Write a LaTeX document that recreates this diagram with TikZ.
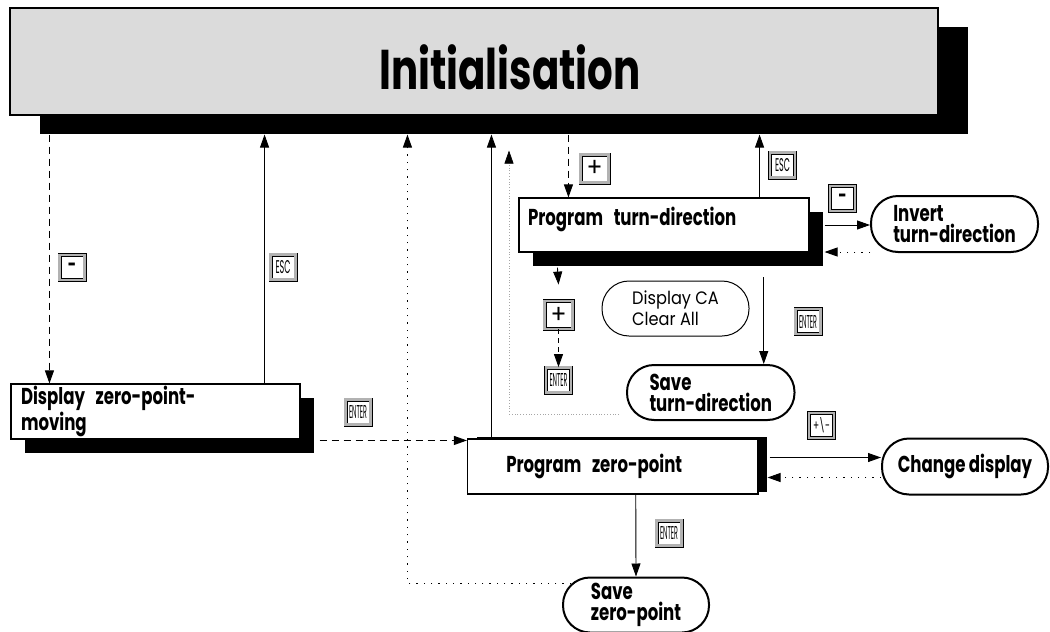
\documentclass[tikz,border=0pt]{standalone}
\usepackage{fontspec}
\usepackage{graphicx}
\setmainfont{Poppins}[FakeStretch=0.72]
\newfontfamily\plainfont{Poppins}[FakeStretch=0.9]
\usetikzlibrary{arrows.meta,shadows}
\newcommand{\titlefont}{\fontsize{56}{60}\selectfont\bfseries}
\newcommand{\boxfont}{\fontsize{23}{21}\selectfont\bfseries}
\newcommand{\keytext}[2]{\resizebox{#1}{13pt}{\plainfont\fontsize{18}{18}\selectfont #2}}
\tikzset{
    state-box/.style = {draw, fill=white, line width=1.1pt, rectangle, align=left, inner xsep=10pt, inner ysep=0pt, font=\boxfont},
    state-pill/.style = {draw, fill=white, line width=2pt, rectangle, rounded corners=27pt, minimum height=55pt, align=left, inner sep=0pt, font=\boxfont},
    solid-shadow/.style = {drop shadow={shadow xshift=#1, shadow yshift=-#1, opacity=1, fill=black}},
    key-cap/.style = {draw=black, line width=0.8pt, double=black!30, double distance=2.4pt, fill=white, minimum size=25pt, inner sep=0pt},
    flow/.style = {line width=0.9pt, -{Triangle[length=13pt,width=9pt]}},
    dash-flow/.style = {flow, dash pattern=on 7pt off 5pt},
    dot-flow/.style = {flow, dash pattern=on 1.3pt off 6pt},
    faint-flow/.style = {flow, draw=black!35, line width=0.6pt, dash pattern=on 0.8pt off 2pt, -{Triangle[length=13pt,width=9pt,black]}},
}

\begin{document}
\begin{tikzpicture}[x=1pt,y=-1pt]
\useasboundingbox (0,0) rectangle (1050,632);

% boxes
\node[state-box, fill=black!14, minimum width=928pt, minimum height=107pt, drop shadow={shadow xshift=30pt, shadow yshift=-19pt, opacity=1, fill=black}] (init) at (474,61.5) {};
\node[font=\titlefont] at ([xshift=36pt,yshift=-6pt]init.center) {Initialisation};
\node[state-box, solid-shadow=14pt, minimum width=289pt, minimum height=55pt, text width=269pt] (display-zp) at (155.5,411.5) {Display\hspace{3pt} zero-point-\\moving};
\node[state-box, solid-shadow=14pt, minimum width=290pt, minimum height=54pt, text width=272pt, inner xsep=9pt, text depth=18pt] (prog-turn) at (664,225) {Program\hspace{3pt} turn-direction};
\node[state-box, drop shadow={shadow xshift=9pt, shadow yshift=2pt, opacity=1, fill=black}, minimum width=290.5pt, minimum height=55pt, text width=213pt, inner xsep=38.75pt] (prog-zp) at (612.75,466.5) {Program\hspace{3pt} zero-point};

% pills
\node[state-pill, minimum width=167pt, minimum height=56pt] (invert-turn) at (954.5,224) {Invert\\turn-direction};
\node[state-pill, minimum width=167.5pt] (save-turn) at (710.75,392.5) {Save\\turn-direction};
\node[state-pill, line width=1pt, minimum width=147pt, font=\plainfont\fontsize{18}{21}\selectfont] (clear-all) at (675.5,308.5) {Display CA\\Clear All};
\node[state-pill, minimum width=166pt, minimum height=56pt] (change-disp) at (965,466.5) {Change display};
\node[state-pill, minimum width=146pt] (save-zp) at (636,605) {Save\\zero-point};

% keys
\node[key-cap, font=\bfseries\fontsize{20}{20}\selectfont] (key-minus-a) at (72,267.5) {-};
\node[key-cap] (key-esc-a) at (283,267) {\keytext{15pt}{ESC}};
\node[key-cap] (key-enter-a) at (358,412) {\keytext{18pt}{ENTER}};
\node[key-cap, minimum size=28pt, font=\plainfont\fontsize{26}{26}\selectfont] (key-plus-a) at (594.5,168.5) {+};
\node[key-cap] (key-esc-b) at (782.5,165) {\keytext{15pt}{ESC}};
\node[key-cap, font=\bfseries\fontsize{20}{20}\selectfont] (key-minus-b) at (842.5,198.5) {-};
\node[key-cap, minimum size=28pt, font=\plainfont\fontsize{26}{26}\selectfont] (key-plus-b) at (558.5,315) {+};
\node[key-cap] (key-enter-b) at (558.5,380) {\keytext{18pt}{ENTER}};
\node[key-cap] (key-enter-c) at (808,321.5) {\keytext{18pt}{ENTER}};
\node[key-cap] (key-sign) at (821.5,425.5) {\keytext{17pt}{+\textbackslash-}};
\node[key-cap] (key-enter-d) at (669,533) {\keytext{18pt}{ENTER}};

% anchor points
\coordinate (init-bottom) at ([yshift=-19pt]init.south);
\coordinate (dzp-in) at ([xshift=39pt]display-zp.north west);
\coordinate (dzp-esc) at ([xshift=-36pt]display-zp.north east);
\coordinate (dzp-out) at ([xshift=19pt]display-zp.east);
\coordinate (zp-in) at ([yshift=-2pt]prog-zp.north west);
\coordinate (zp-esc) at ([xshift=24.5pt]prog-zp.north west);
\coordinate (zp-loop) at ([xshift=-59.5pt]prog-zp.north west);
\coordinate (szp-back) at ([xshift=9pt,yshift=-7pt]save-zp.north west);
\coordinate (turn-in) at ([xshift=50pt]prog-turn.north west);
\coordinate (turn-esc) at ([xshift=-50pt]prog-turn.north east);
\coordinate (turn-out) at ([xshift=15pt]prog-turn.east);
\coordinate (inv-back) at ([yshift=-28pt]invert-turn.west);
\coordinate (st-back) at ([xshift=-7pt,yshift=7pt]save-turn.south west);
\coordinate (st-top) at ([xshift=35pt,yshift=-16pt]init-bottom);

% connectors
\draw[dash-flow] (dzp-in |- init-bottom) -- (dzp-in);
\draw[flow] (dzp-esc) -- (dzp-esc |- init-bottom);
\draw[dash-flow] (dzp-out |- zp-in) -- (zp-in);
\draw[flow] (zp-esc) -- (zp-esc |- init-bottom);
\draw[dot-flow] (szp-back) -| (zp-loop |- init-bottom);
\draw[faint-flow] (st-back) -| (st-top);
\draw[dash-flow] (turn-in |- init-bottom) -- (turn-in);
\draw[flow] (turn-esc) -- (turn-esc |- init-bottom);
\draw[flow] (turn-out) -- (invert-turn.west |- turn-out);
\draw[dot-flow] (inv-back) -- (turn-out |- inv-back);
\draw[flow] ([xshift=39pt,yshift=-15pt]prog-turn.south west) -- ([yshift=16pt]key-plus-b.north);
\draw[dash-flow, dash pattern=on 5pt off 4pt] (key-plus-b.south) -- (key-enter-b.north);
\draw[flow] ([xshift=53pt,yshift=87pt]save-turn.north) -- ([xshift=53pt]save-turn.north);
\draw[flow] ([xshift=11pt,yshift=9pt]prog-zp.east) -- ([yshift=9pt]change-disp.west);
\draw[dot-flow] ([yshift=-11pt]change-disp.west) -- ([xshift=9pt,yshift=-11pt]prog-zp.east);
\draw[flow] ([xshift=23pt]prog-zp.south) -- (save-zp.north);
\end{tikzpicture}
\end{document}
